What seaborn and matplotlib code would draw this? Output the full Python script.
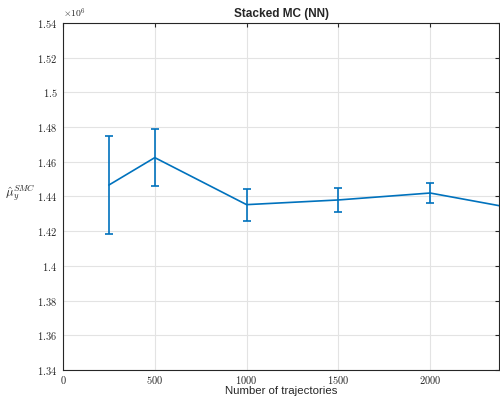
import numpy as np
import pandas as pd
import matplotlib
matplotlib.use('Agg')
import matplotlib.pyplot as plt
import seaborn as sns
from matplotlib.ticker import FuncFormatter, MultipleLocator

# dados
trajetorias = [250, 500, 1000, 1500, 2000, 2500]
media = [1.4466e6, 1.4624e6, 1.4353e6, 1.4380e6, 1.4420e6, 1.4323e6]
erro = [0.0283e6, 0.0166e6, 0.0093e6, 0.0071e6, 0.0055e6, 0.0050e6]

df = pd.DataFrame({'N': trajetorias, 'mu': media, 'err': erro})

sns.set_style('white')
plt.rcParams['font.family'] = ['Liberation Sans', 'DejaVu Sans']
plt.rcParams['mathtext.fontset'] = 'cm'

fig = plt.figure(figsize=(5, 3.99), dpi=100)
ax = fig.add_axes([0.126, 0.0727, 0.872, 0.8697])

cor = '#0072BD'
sns.lineplot(data=df, x='N', y='mu', color=cor, linewidth=1.2, ax=ax)
ax.errorbar(df['N'], df['mu'], yerr=df['err'], fmt='none', ecolor=cor,
            elinewidth=1.2, capsize=3, capthick=1.2)

ax.set_xlim(0, 2375)
ax.set_ylim(1.34e6, 1.54e6)
ax.xaxis.set_major_locator(MultipleLocator(500))
ax.yaxis.set_major_locator(MultipleLocator(0.02e6))
ax.xaxis.set_major_formatter(FuncFormatter(lambda v, p: f'${v:g}$'))
ax.yaxis.set_major_formatter(FuncFormatter(lambda v, p: f'${v/1e6:g}$'))

ax.grid(True, color='#e3e3e3', linewidth=0.8)
ax.set_axisbelow(True)
ax.tick_params(direction='in', length=3, width=0.8, top=True, right=True,
               labelsize=7.5, colors='#262626', pad=4)
ax.tick_params(axis='x', pad=3)
for s in ax.spines.values():
    s.set_color('#262626')
    s.set_linewidth(0.8)

ax.set_title('Stacked MC (NN)', fontsize=8.5, fontweight='bold', pad=4)
ax.set_xlabel('Number of trajectories', fontsize=8.2, labelpad=0)
ax.set_ylabel(r'$\hat{\mu}_y^{SMC}$', fontsize=9, rotation=0, ha='center', va='center')
ax.yaxis.set_label_coords(-0.097, 0.51)
ax.text(0.0, 1.008, r'$\times 10^6$', transform=ax.transAxes, fontsize=7,
        ha='left', va='bottom', color='#262626')

plt.savefig('out.png', dpi=100)
